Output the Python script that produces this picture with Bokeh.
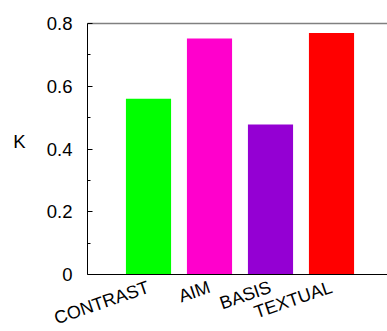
import math
from bokeh.plotting import figure
from bokeh.models import Range1d, FixedTicker, ColumnDataSource, Label, LinearAxis
from bokeh.embed import file_html
from bokeh.resources import INLINE

categories = ["", "CONTRAST", "AIM", "BASIS", "TEXTUAL"]
kappa = [0.0, 0.56, 0.752, 0.478, 0.77]
colors = ["#000000", "#00ff00", "#ff00cc", "#9400d3", "#ff0000"]
y_ticks = [0, 0.2, 0.4, 0.6, 0.8]
y_tick_labels = ["0", "0.2", "0.4", "0.6", "0.8"]

xs = list(range(len(categories)))
src = ColumnDataSource(dict(x=xs, top=kappa, color=colors))

font = "Liberation Sans"
W, H = 387, 331
left_px, top_px, bottom_px = 87, 23, 57        # frame of the chart inside the canvas
px_x = 61.0                                     # pixels per category
px_y = (H - top_px - bottom_px) / 0.8           # pixels per unit of K
x_end = (W - left_px) / px_x

p = figure(width=W, height=H, output_backend="svg", toolbar_location=None,
           x_range=Range1d(-left_px / px_x, x_end),
           y_range=Range1d(-bottom_px / px_y, 0.8 + top_px / px_y),
           min_border_left=0, min_border_right=0, min_border_top=0, min_border_bottom=0)
p.outline_line_color = None
p.grid.visible = False
p.background_fill_color = "white"
p.border_fill_color = "white"

p.vbar(x="x", top="top", bottom=0, width=0.74, source=src,
       fill_color="color", line_color=None)

# y axis
ya = p.yaxis[0]
ya.fixed_location = 0
ya.bounds = (0, 0.8)
ya.ticker = FixedTicker(ticks=y_ticks, minor_ticks=[0.1, 0.3, 0.5, 0.7])
ya.major_label_overrides = {t: l for t, l in zip(y_ticks, y_tick_labels)}
ya.major_tick_in = 5
ya.major_tick_out = 0
ya.minor_tick_in = 3
ya.minor_tick_out = 0
ya.major_label_standoff = 15
ya.major_label_text_font = font
ya.major_label_text_font_size = "18.5px"
ya.major_label_text_color = "black"
ya.axis_line_color = "black"

p.add_layout(Label(x=0, y=0.424, x_offset=-68, text="K", text_align="center",
                   text_baseline="middle", text_font=font, text_font_size="18.5px",
                   text_color="black"))

# x axis
xa = p.xaxis[0]
xa.fixed_location = 0
xa.bounds = (0, x_end)
xa.ticker = FixedTicker(ticks=xs[1:])
xa.major_label_overrides = {x: c for x, c in zip(xs, categories)}
xa.major_tick_in = 0
xa.major_tick_out = 0
xa.minor_tick_in = 0
xa.minor_tick_out = 0
xa.major_label_orientation = math.radians(19)
xa.major_label_standoff = 12
xa.major_label_text_font = font
xa.major_label_text_font_size = "18px"
xa.major_label_text_color = "black"
xa.axis_line_color = "black"

# top border line
top = LinearAxis(fixed_location=0.8, bounds=(0, x_end), ticker=FixedTicker(ticks=[]),
                 major_tick_in=0, major_tick_out=0, minor_tick_in=0, minor_tick_out=0,
                 major_label_text_font_size="0px", axis_line_color="#808080",
                 axis_line_width=1.5)
p.add_layout(top, "above")

open("out.html", "w").write(file_html(p, INLINE))
